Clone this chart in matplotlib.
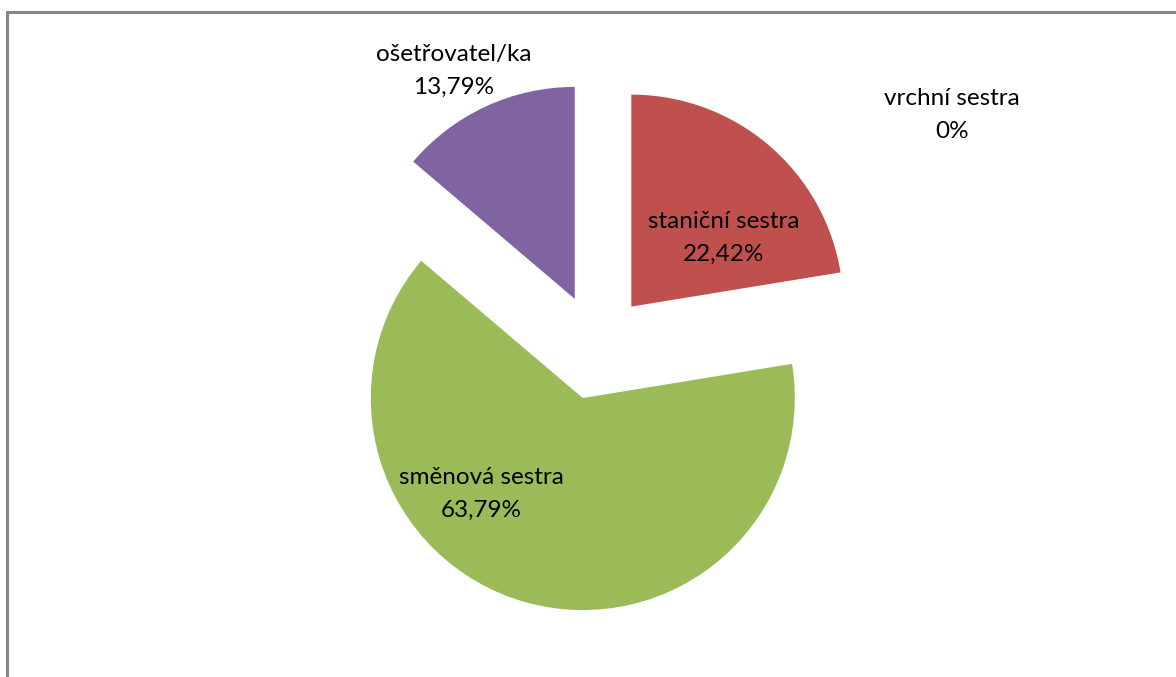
import matplotlib
matplotlib.use("Agg")
import matplotlib.pyplot as plt
from matplotlib.patches import Rectangle

# Data
categories = ["vrchní sestra", "staniční sestra", "směnová sestra", "ošetřovatel/ka"]
shares = [0.0, 22.42, 63.79, 13.79]
share_labels = ["0%", "22,42%", "63,79%", "13,79%"]
colors = ["#4F81BD", "#C0504D", "#9BBB59", "#8064A2"]

W, H = 1176, 677
fig = plt.figure(figsize=(W / 100, H / 100), dpi=100)
fig.patch.set_facecolor("white")
ax = fig.add_axes([0, 0, 1, 1])

center = (597, H - 347)
radius = 212
explode = [53] * len(shares)

ax.pie(shares, colors=colors, startangle=90, counterclock=False,
       center=center, radius=radius, explode=explode,
       wedgeprops=dict(linewidth=0), frame=True)
ax.set_xlim(0, W)
ax.set_ylim(0, H)
ax.set_aspect("equal")
ax.axis("off")

# chart-area frame
ax.add_patch(Rectangle((7, -20), W + 40, H - 12 + 20, fill=False,
                       edgecolor="#868686", linewidth=2.2))

# label anchor points (pixel coordinates from the top-left)
label_pos = [(952, 115), (724, 238), (481, 494), (454, 71)]
for name, lab, (x, y) in zip(categories, share_labels, label_pos):
    ax.text(x, H - y, f"{name}\n{lab}", ha="center", va="center",
            multialignment="center", fontsize=17.5, family="Lato",
            color="#000000", linespacing=1.7)

fig.savefig("out.png", dpi=100, facecolor="white")
